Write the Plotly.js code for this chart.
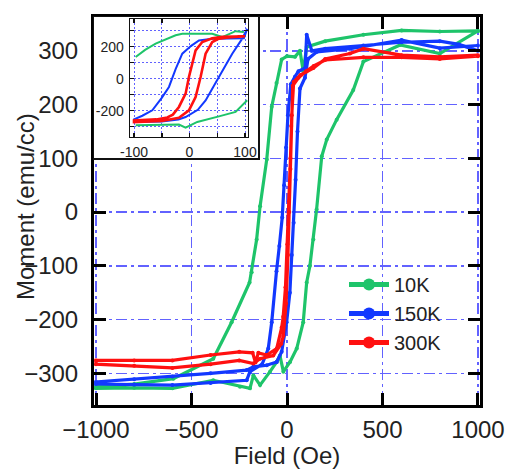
<!DOCTYPE html>
<html>
<head>
<meta charset="utf-8">
<script src="https://cdn.plot.ly/plotly-3.0.1.min.js"></script>
<style>
html,body{margin:0;padding:0;background:#fff;}
#chart{width:509px;height:469px;}
</style>
</head>
<body>
<div id="chart"></div>
<script>
// ---------- main loops (Field in Oe, Moment in emu/cc) ----------
const seriesNames = ["10K", "150K", "300K"];
const seriesColors = ["#1ec46a", "#1238ff", "#ff1010"];

const field10K = [1000, 800, 600, 400, 200, 103, 85, 68, 42, 0, -28, -55, -80, -106, -141, -159, -185, -196, -290, -386, -595, -800, -1000,
  -1000, -800, -600, -386, -246, -194, -176, -141, -89, -54, -37, -19, 16, 51, 85, 103, 120, 138, 155, 182, 208, 260, 347, 400, 592, 800, 1000];
const moment10K = [337, 336, 338, 330, 318, 307, 262, 300, 289, 290, 284, 240, 196, 98, 11, -51, -112, -131, -205, -273, -310, -320, -325,
  -328, -327, -328, -313, -325, -328, -304, -322, -297, -279, -267, -297, -279, -254, -205, -131, -100, -51, 5, 104, 135, 172, 227, 280, 311, 295, 337];

const field150K = [1000, 900, 800, 600, 400, 200, 130, 103, 95, 60, 42, 20, 5, -5, -15, -25, -40, -55, -80, -98, -130, -194, -211, -400, -600, -800, -1000,
  -1000, -800, -600, -400, -211, -176, -106, -54, -28, -2, 15, 25, 35, 45, 55, 68, 94, 110, 155, 330, 600, 800, 1000];
const moment150K = [300, 312, 318, 316, 310, 304, 300, 330, 268, 262, 252, 238, 180, 120, 50, -10, -63, -110, -205, -254, -283, -297, -313, -318, -322, -321, -320,
  -316, -311, -306, -300, -294, -288, -285, -279, -260, -205, -150, -80, -20, 60, 150, 230, 250, 285, 298, 304, 320, 305, 310];

const field300K = [1000, 800, 600, 400, 330, 200, 138, 103, 70, 35, 25, 18, 10, 2, -8, -20, -28, -54, -106, -150, -165, -180, -250, -400, -600, -800, -1000,
  -1000, -800, -600, -400, -250, -176, -141, -72, -30, -19, -5, 5, 12, 18, 22, 30, 60, 100, 140, 200, 400, 600, 800, 1000];
const moment300K = [292, 289, 292, 304, 295, 285, 268, 262, 255, 242, 180, 100, 20, -60, -140, -195, -215, -254, -266, -262, -280, -262, -260, -266, -276, -276, -276,
  -283, -286, -290, -283, -276, -282, -273, -267, -245, -230, -170, -80, 0, 80, 160, 235, 250, 262, 272, 283, 288, 288, 285, 290];

// ---------- inset loops (low-field zoom) ----------
const insetField10K = [98, 83, 59, 41, -13, -25, -61, -80, -97, null, -97, -60, -19, -7, 14, 53, 83, 104];
const insetMoment10K = [292, 297, 260, 281, 281, 271, 219, 180, 135, null, -292, -290, -287, -306, -271, -236, -208, -135];

const insetField150K = [104, 98, 41, 17, 3, -13, -25, -37, -50, -67, -85, -100, -100, -50, -20, -7, 15, 29, 53, 77, 95, 104];
const insetMoment150K = [312, 252, 250, 239, 205, 156, 60, -52, -120, -198, -232, -255, -271, -268, -255, -240, -195, -136, 10, 156, 250, 312];

const insetField300K = [100, 60, 41, 23, 11, 5, -1, -7, -19, -30, -40, -60, -100, -100, -50, -19, -1, 11, 20, 29, 41, 53, 70, 100];
const insetMoment300K = [265, 262, 252, 229, 177, 100, 10, -94, -177, -225, -243, -255, -262, -272, -265, -245, -198, -115, 10, 156, 229, 250, 258, 265];

// ---------- ticks ----------
const mainXTicks = [-1000, -500, 0, 500, 1000];
const mainYTicks = [-300, -200, -100, 0, 100, 200, 300];
const insetXTickVals = [-100, -50, 0, 50, 100];
const insetXTickText = ["-100", "", "0", "", "100"];
const insetYTickVals = [-300, -200, -100, 0, 100, 200, 300];
const insetYTickText = ["", "-200", "", "0", "", "200", ""];

const mainX = [field10K, field150K, field300K];
const mainY = [moment10K, moment150K, moment300K];
const insX = [insetField10K, insetField150K, insetField300K];
const insY = [insetMoment10K, insetMoment150K, insetMoment300K];

const traces = [];
for (let i = 0; i < 3; i++) {
  traces.push({
    x: mainX[i], y: mainY[i], name: seriesNames[i], type: "scatter", mode: "lines+markers",
    line: {color: seriesColors[i], width: 3.2}, marker: {color: seriesColors[i], size: 4},
    xaxis: "x", yaxis: "y", hoverinfo: "none"
  });
}
// invisible point that creates the blank white box behind the inset
traces.push({x: [0.5], y: [0.5], xaxis: "x2", yaxis: "y2", mode: "markers",
  marker: {size: 1, color: "rgba(0,0,0,0)"}, showlegend: false, hoverinfo: "none"});
for (let i = 0; i < 3; i++) {
  traces.push({
    x: insX[i], y: insY[i], name: seriesNames[i], type: "scatter", mode: "lines",
    line: {color: seriesColors[i], width: i === 2 ? 2.6 : 2}, connectgaps: false,
    xaxis: "x3", yaxis: "y3", showlegend: false, hoverinfo: "none"
  });
}

const FONT = "Liberation Sans, Arial, sans-serif";
const TXT = "#222222";
const gridBlue = "#6262ff";

// plot area: left 94, right 480, top 17, bottom 405
const W = 509, H = 469, L = 94, R = 480, T = 17, B = 405;
const pw = R - L, ph = B - T;
function dx(a, b) { return [(a - L) / pw, (b - L) / pw]; }
function dy(top, bottom) { return [(B - bottom) / ph, (B - top) / ph]; }

const layout = {
  width: W, height: H,
  margin: {l: L, r: W - R, t: T, b: H - B, pad: 0},
  paper_bgcolor: "#ffffff", plot_bgcolor: "#ffffff",
  font: {family: FONT, color: TXT},
  showlegend: true,
  legend: {
    x: (344 - L) / pw, y: (B - 265) / ph, xanchor: "left", yanchor: "top",
    bgcolor: "rgba(0,0,0,0)", borderwidth: 0, itemsizing: "constant", itemwidth: 40,
    font: {family: FONT, size: 20, color: TXT}, tracegroupgap: 0
  },
  xaxis: {
    domain: [0, 1], range: [-1010.5, 1010.5], tickmode: "array", tickvals: mainXTicks,
    ticks: "inside", ticklen: 12, tickwidth: 3, tickcolor: "#000",
    showline: true, linewidth: 3, linecolor: "#000", mirror: "ticks",
    showgrid: true, gridcolor: gridBlue, gridwidth: 1.5, griddash: "11px,4px,3px,4px",
    zeroline: false, tickfont: {size: 24, family: FONT, color: TXT}, ticklabelstandoff: 1,
    title: {text: "Field (Oe)", font: {size: 24, family: FONT, color: TXT}, standoff: 5}
  },
  yaxis: {
    domain: [0, 1], range: [-359, 363], tickmode: "array", tickvals: mainYTicks,
    ticks: "inside", ticklen: 12, tickwidth: 3, tickcolor: "#000",
    showline: true, linewidth: 3, linecolor: "#000", mirror: "ticks",
    showgrid: true, gridcolor: gridBlue, gridwidth: 1.5, griddash: "11px,4px,3px,4px",
    zeroline: false, tickfont: {size: 24, family: FONT, color: TXT}, ticklabelstandoff: 8
  },
  // blank white box behind the inset
  xaxis2: {domain: dx(L, 258), range: [0, 1], anchor: "y2", showgrid: false, zeroline: false, showticklabels: false, ticks: "",
    showline: true, linewidth: 1.5, linecolor: "#111", mirror: true, fixedrange: true},
  yaxis2: {domain: dy(T, 158), range: [0, 1], anchor: "x2", showgrid: false, zeroline: false, showticklabels: false, ticks: "",
    showline: true, linewidth: 1.5, linecolor: "#111", mirror: true, fixedrange: true},
  // inset axes
  xaxis3: {
    domain: dx(130, 248), range: [-107.2, 105.4], anchor: "y3", tickmode: "array", tickvals: insetXTickVals, ticktext: insetXTickText,
    ticks: "inside", ticklen: 4, tickwidth: 1.5, tickcolor: "#111",
    showline: true, linewidth: 1.3, linecolor: "#111", mirror: "ticks",
    showgrid: true, gridcolor: gridBlue, gridwidth: 1, griddash: "2px,2px",
    zeroline: false, tickfont: {size: 14, family: FONT, color: TXT}, ticklabelstandoff: 2
  },
  yaxis3: {
    domain: dy(19, 137), range: [-365, 373], anchor: "x3", tickmode: "array", tickvals: insetYTickVals, ticktext: insetYTickText,
    ticks: "inside", ticklen: 4, tickwidth: 1.5, tickcolor: "#111",
    showline: true, linewidth: 1.3, linecolor: "#111", mirror: "ticks",
    showgrid: true, gridcolor: gridBlue, gridwidth: 1, griddash: "2px,2px",
    zeroline: false, tickfont: {size: 14, family: FONT, color: TXT}, ticklabelstandoff: 2
  },
  annotations: [{
    text: "Moment (emu/cc)", textangle: -90, xref: "paper", yref: "paper",
    x: (25 - L) / pw, y: (B - 207) / ph, xanchor: "center", yanchor: "middle", showarrow: false,
    font: {size: 24, family: FONT, color: TXT}
  }]
};

Plotly.newPlot("chart", traces, layout, {displayModeBar: false, staticPlot: true});
</script>
</body>
</html>
